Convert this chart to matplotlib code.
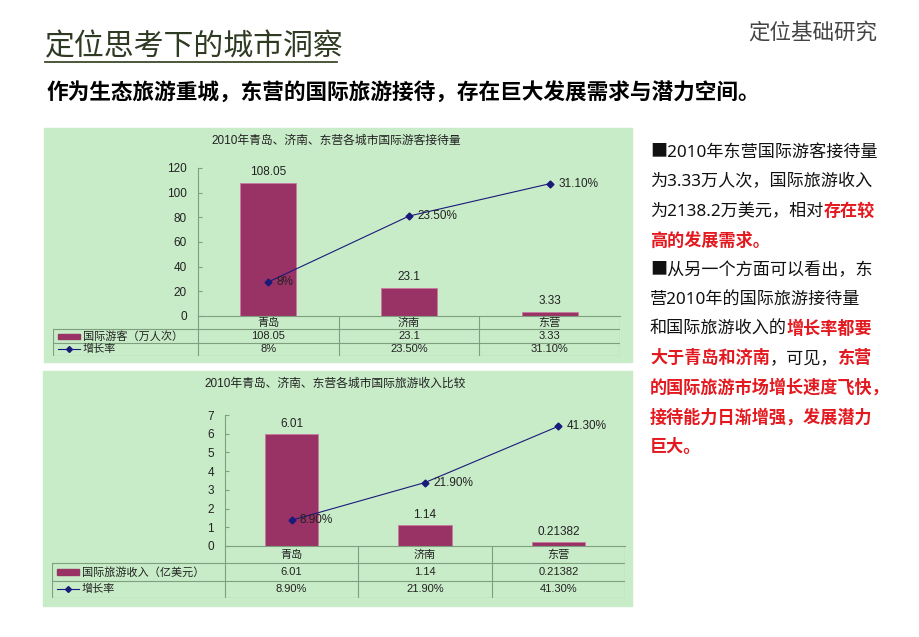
import matplotlib.pyplot as plt
from matplotlib.patches import Rectangle
from matplotlib.lines import Line2D

plt.rcParams['font.family'] = ['Liberation Sans', 'Noto Sans CJK SC', 'DejaVu Sans']

# 数据
cities = ['青岛', '济南', '东营']

visitors = [108.05, 23.1, 3.33]            # 国际游客（万人次）
visitor_growth = [0.08, 0.235, 0.311]
visitor_growth_lbl = ['8%', '23.50%', '31.10%']

income = [6.01, 1.14, 0.21382]             # 国际旅游收入（亿美元）
income_growth = [0.089, 0.219, 0.413]
income_growth_lbl = ['8.90%', '21.90%', '41.30%']

W, H = 920, 637
GREEN = '#c8ebc8'
BAR = '#993366'
LINE = '#1a1a7a'
GRID = '#7f9f7f'
RED = '#e3191f'
CJK = ['Noto Sans CJK SC', 'DejaVu Sans']
BODY = ['Noto Sans', 'Noto Sans CJK SC', 'DejaVu Sans']

fig = plt.figure(figsize=(W / 100, H / 100), dpi=100)
bg = fig.add_axes([0, 0, 1, 1])
bg.set_xlim(0, W)
bg.set_ylim(H, 0)
bg.axis('off')

# 页面标题
bg.text(45, 47, '定位思考下的城市洞察', fontsize=21.5, color='#2f3a22', va='center', ha='left',
        family=CJK, weight='light')
bg.plot([45, 337], [62, 62], color='#3d4a2a', lw=1.3)
bg.text(877, 33, '定位基础研究', fontsize=15.5, color='#444444', va='center', ha='right',
        family=CJK, weight='light')
bg.text(47, 92, '作为生态旅游重城，东营的国际旅游接待，存在巨大发展需求与潜力空间。',
        fontsize=15.6, weight='bold', color='black', va='center', ha='left', family=CJK)


def px2fig(x0, y0, x1, y1):
    return [x0 / W, 1 - y1 / H, (x1 - x0) / W, (y1 - y0) / H]


def chart(panel, title, axl, axr, ytop, ybot, rows, vals, growth, glbl,
          ymax, ystep, gmax, tbl_left, row_lbl):
    px0, py0, px1, py1 = panel
    bg.add_patch(Rectangle((px0, py0), px1 - px0, py1 - py0, color=GREEN, zorder=0))
    bg.text((px0 + px1) / 2 - 2, py0 + 13, title, fontsize=8.5, ha='center', va='center', color='#222222')

    ax = fig.add_axes(px2fig(axl, ytop, axr, ybot))
    ax.patch.set_alpha(0)
    x = list(range(len(cities)))
    ax.bar(x, vals, width=0.4, color=BAR, edgecolor='#c97a9e', lw=0.6, zorder=2)
    for i, v in enumerate(vals):
        ax.text(i, v + ymax * 0.03, str(v), ha='center', va='bottom', fontsize=8.5, color='#222222')
    ax.set_xlim(-0.5, 2.5)
    ax.set_ylim(0, ymax)
    ax.set_yticks([i * ystep for i in range(int(ymax / ystep) + 1)])
    ax.set_xticks([])
    ax.tick_params(axis='y', direction='in', length=3, labelsize=8.5, colors='#222222', color=GRID, pad=8)
    for s in ['top', 'right']:
        ax.spines[s].set_visible(False)
    for s in ['left', 'bottom']:
        ax.spines[s].set_color(GRID)
        ax.spines[s].set_linewidth(0.8)

    ax2 = ax.twinx()
    ax2.set_ylim(0, gmax)
    ax2.axis('off')
    ax2.plot(x, growth, color=LINE, lw=0.8, marker='D', ms=3.5, zorder=3)
    for i, g in enumerate(growth):
        ax2.text(i + 0.06, g, glbl[i], ha='left', va='center', fontsize=8.5, color='#222222')

    # 数据表
    r0, r1, r2, r3 = rows
    colw = (axr - axl) / 3
    u0 = -0.5 - (axl - tbl_left) / colw
    tax = fig.add_axes(px2fig(tbl_left, r0, axr, r3))
    tax.set_xlim(u0, 2.5)
    tax.set_ylim(3, 0)
    tax.axis('off')
    tax.patch.set_alpha(0)
    kw = dict(color=GRID, lw=0.8)
    tax.plot([u0, 2.5], [1, 1], **kw)
    tax.plot([u0, 2.5], [2, 2], **kw)
    tax.plot([u0, 2.5], [3, 3], **kw)
    tax.plot([u0, u0], [1, 3], **kw)
    for b in [-0.5, 0.5, 1.5, 2.5]:
        tax.plot([b, b], [0, 3], **kw)
    for i, c in enumerate(cities):
        tax.text(i, 0.5, c, ha='center', va='center', fontsize=8, color='#222222')
        tax.text(i, 1.5, str(vals[i]), ha='center', va='center', fontsize=8, color='#222222')
        tax.text(i, 2.5, glbl[i], ha='center', va='center', fontsize=8, color='#222222')
    uw = 1 / colw
    tax.add_patch(Rectangle((u0 + 5 * uw, 1.35), 22 * uw, 0.35, color=BAR))
    tax.add_line(Line2D([u0 + 5 * uw, u0 + 16 * uw, u0 + 27 * uw], [2.5, 2.5, 2.5], color=LINE, lw=0.8,
                        marker='D', ms=3, markevery=[1], markerfacecolor=LINE))
    tax.text(u0 + 30 * uw, 1.5, row_lbl, ha='left', va='center', fontsize=8, color='#222222')
    tax.text(u0 + 30 * uw, 2.5, '增长率', ha='left', va='center', fontsize=8, color='#222222')


chart((44, 128, 632, 362), '2010年青岛、济南、东营各城市国际游客接待量',
      198, 620, 168, 316, (316, 330, 343, 356),
      visitors, visitor_growth, visitor_growth_lbl, 120, 20, 0.348, 53, '国际游客（万人次）')

chart((43, 371, 632, 606), '2010年青岛、济南、东营各城市国际旅游收入比较',
      225, 625, 415, 546, (546, 563, 580, 598),
      income, income_growth, income_growth_lbl, 7, 1, 0.452, 52, '国际旅游收入（亿美元）')

# 右侧说明文字
K, R = 'black', 'red'
para = [
    [('■2010年东营国际游客接待量', K)],
    [('为3.33万人次，国际旅游收入', K)],
    [('为2138.2万美元，相对', K), ('存在较', R)],
    [('高的发展需求。', R)],
    [('■从另一个方面可以看出，东', K)],
    [('营2010年的国际旅游接待量', K)],
    [('和国际旅游收入的', K), ('增长率都要', R)],
    [('大于青岛和济南', R), ('，可见，', K), ('东营', R)],
    [('的国际旅游市场增长速度飞快，', R)],
    [('接待能力日渐增强，发展潜力', R)],
    [('巨大。', R)],
]
for n, segs in enumerate(para):
    y = 153 + n * 29.4
    prev = None
    for s, c in segs:
        style = dict(fontsize=12.3, color=RED if c == R else '#111111', family=BODY,
                     weight='bold' if c == R else 'normal', va='center', ha='left')
        if prev is None:
            prev = bg.text(650, y, s, **style)
        else:
            prev = bg.annotate(s, xy=(1, 0.5), xycoords=prev, **style)

fig.savefig('out.png', dpi=100)
